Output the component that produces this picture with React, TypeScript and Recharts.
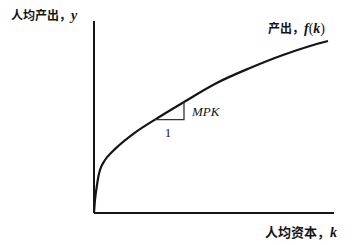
import { Line, LineChart, ReferenceDot, ReferenceLine, XAxis, YAxis } from "recharts";

// per-worker capital k and output y along the production function
const capital = [0, 1, 2.7, 4.3, 6, 11, 17.7, 24.3, 41, 61, 90, 122.7, 156, 189, 216, 234];
const output = [0, 13, 26, 36, 43, 53, 60.7, 67, 80.4, 93.4, 111, 130, 145, 158, 167, 172];

// slope triangle under the curve: run of 1, rise of MPK
const triangleK = [61, 90, 90];
const triangleY = [93.4, 93.4, 111];

const curveData = capital.map((k, i) => ({ k, y: output[i] }));
const triangleData = triangleK.map((k, i) => ({ k, y: triangleY[i] }));

const ink = "#151515";
const cjk = "'Noto Sans CJK SC', 'Noto Sans', sans-serif";
const serif = "'Liberation Serif', 'DejaVu Serif', serif";

const titleStyle: React.CSSProperties = {
  position: "absolute",
  fontFamily: cjk,
  fontWeight: 700,
  fontSize: 12,
  color: ink,
  whiteSpace: "nowrap",
  lineHeight: "14px",
};

const markLabel = (text: string, italic: boolean, anchor: "start" | "middle") =>
  (props: any) => {
    const { x, y, width = 0, height = 0 } = props.viewBox ?? {};
    return (
      <text
        x={x + width / 2}
        y={y + height / 2}
        dy={4.5}
        textAnchor={anchor}
        fill={ink}
        fontSize={13}
        fontFamily={serif}
        fontStyle={italic ? "italic" : "normal"}
      >
        {text}
      </text>
    );
  };

export default function App() {
  return (
    <div style={{ position: "absolute", left: 0, top: 0, width: 359, height: 245, background: "#fff" }}>
      <LineChart
        width={359}
        height={245}
        margin={{ top: 21, right: 25, bottom: 32, left: 94 }}
      >
        <XAxis type="number" dataKey="k" domain={[0, 240]} hide />
        <YAxis type="number" dataKey="y" domain={[0, 192]} hide />
        <ReferenceLine
          segment={[{ x: 0, y: 0 }, { x: 240, y: 0 }]}
          stroke={ink}
          strokeWidth={2}
          ifOverflow="visible"
        />
        <ReferenceLine
          segment={[{ x: 0, y: 0 }, { x: 0, y: 192 }]}
          stroke={ink}
          strokeWidth={2}
          ifOverflow="visible"
        />
        <Line
          data={curveData}
          dataKey="y"
          type="monotone"
          stroke={ink}
          strokeWidth={2.2}
          dot={false}
          isAnimationActive={false}
        />
        <Line
          data={triangleData}
          dataKey="y"
          type="linear"
          stroke="#333"
          strokeWidth={1.3}
          dot={false}
          isAnimationActive={false}
        />
        <ReferenceDot
          x={98}
          y={102}
          r={0}
          ifOverflow="visible"
          label={markLabel("MPK", true, "start")}
        />
        <ReferenceDot
          x={74}
          y={81}
          r={0}
          ifOverflow="visible"
          label={markLabel("1", false, "middle")}
        />
      </LineChart>

      <div style={{ ...titleStyle, left: 11, top: 8 }}>
        人均产出，<span style={{ fontFamily: serif, fontStyle: "italic", fontSize: 14 }}>y</span>
      </div>
      <div style={{ ...titleStyle, left: 268, top: 21 }}>
        产出，<span style={{ fontFamily: serif, fontStyle: "italic", fontSize: 14 }}>f</span>
        <span style={{ fontFamily: serif, fontSize: 14, fontWeight: 400 }}>(</span>
        <span style={{ fontFamily: serif, fontStyle: "italic", fontSize: 14 }}>k</span>
        <span style={{ fontFamily: serif, fontSize: 14, fontWeight: 400 }}>)</span>
      </div>
      <div style={{ ...titleStyle, left: 265, top: 225, fontSize: 13 }}>
        人均资本，<span style={{ fontFamily: serif, fontStyle: "italic", fontSize: 14 }}>k</span>
      </div>
    </div>
  );
}
